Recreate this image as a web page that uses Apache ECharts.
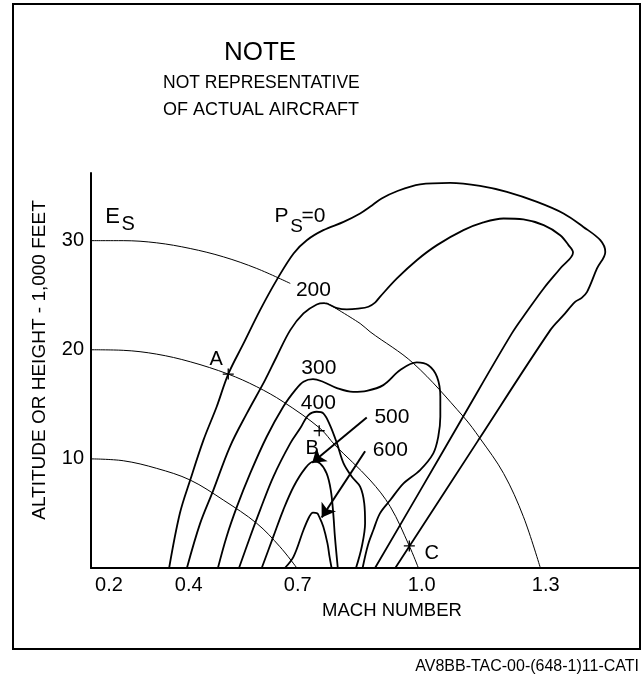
<!DOCTYPE html>
<html><head><meta charset="utf-8">
<script src="https://cdn.jsdelivr.net/npm/echarts@6/dist/echarts.min.js"></script>
<style>html,body{margin:0;padding:0;background:#fff}#c{width:641px;height:674px}</style>
</head><body><div id="c"></div>
<script>
// ---- axis ticks ----
const X_TICKS = [0.2, 0.4, 0.7, 1.0, 1.3];
const X_TICK_LABELS = ['0.2', '0.4', '0.7', '1.0', '1.3'];
const Y_TICKS = [10, 20, 30];
const Y_TICK_LABELS = ['10', '20', '30'];

// ---- specific energy curves Es (Mach, altitude 1000 ft) ----
const ES_10 = [[0.2,10.0],[0.278,9.83],[0.359,9.13],[0.440,8.06],[0.520,6.23],[0.601,4.09],[0.657,1.95],[0.698,0]];
const ES_20 = [[0.2,20.0],[0.278,19.95],[0.359,19.60],[0.440,18.90],[0.532,17.77],[0.601,16.61],[0.665,15.23],[0.754,12.80],[0.790,11.27],[0.875,8.06],[0.924,5.62],[0.970,2.02],[0.992,0]];
const ES_30_A = [[0.2,30.0],[0.278,30.0],[0.359,29.80],[0.440,29.28],[0.520,28.52],[0.601,27.45],[0.682,26.08]];
const ES_30_B = [[0.770,24.30],[0.851,22.41],[0.875,21.65],[0.980,18.75],[1.101,13.86],[1.141,11.88],[1.198,8.67],[1.246,4.70],[1.287,0]];

// ---- specific excess power contours Ps ----
const PS_0 = [[0.389,0],[0.415,5.01],[0.440,8.06],[0.472,11.72],[0.504,14.78],[0.532,17.77],[0.569,20.58],[0.609,23.63],[0.649,26.38],[0.690,28.83],[0.722,30.04],[0.762,30.96],[0.811,31.72],[0.851,32.49],[0.875,33.10],[0.903,33.86],[0.940,34.53],[0.996,35.15],[1.069,35.29],[1.141,35.02],[1.206,34.47],[1.279,33.55],[1.343,32.49],[1.391,31.26],[1.432,30.04],[1.444,28.97],[1.424,27.45],[1.400,25.31],[1.387,24.76],[1.371,24.39],[1.343,23.17],[1.311,21.80],[1.137,11.72],[0.936,0]];
const PS_200 = [[0.432,0],[0.464,4.09],[0.496,7.14],[0.536,11.11],[0.577,14.17],[0.621,17.22],[0.649,19.36],[0.682,21.80],[0.714,23.33],[0.746,24.15],[0.764,24.27],[0.795,23.82],[0.819,23.70],[0.846,23.77],[0.871,23.94],[0.887,24.32],[0.899,24.85],[0.940,26.54],[0.988,28.21],[1.037,29.59],[1.101,30.96],[1.149,31.67],[1.198,32.03],[1.246,31.94],[1.295,31.42],[1.335,30.50],[1.355,29.59],[1.366,28.92],[1.335,27.45],[1.295,25.62],[1.254,23.48],[1.218,21.50],[1.100,13.86],[0.997,7.14],[0.887,0]];
const PS_300 = [[0.507,0],[0.528,2.87],[0.553,5.62],[0.585,8.67],[0.625,12.03],[0.665,14.78],[0.694,16.30],[0.714,17.07],[0.737,17.31],[0.761,17.07],[0.795,16.49],[0.834,16.15],[0.867,16.24],[0.907,16.76],[0.948,18.14],[0.988,18.84],[1.016,18.59],[1.037,17.52],[1.045,15.69],[1.045,13.86],[1.040,12.03],[1.028,10.51],[0.996,8.98],[0.956,7.76],[0.924,6.23],[0.899,5.01],[0.883,3.48],[0.870,2.11],[0.857,0]];
const PS_400 = [[0.558,0],[0.585,2.87],[0.609,5.31],[0.641,8.36],[0.682,11.42],[0.706,12.80],[0.726,14.01],[0.746,14.32],[0.762,14.17],[0.778,13.10],[0.795,11.42],[0.811,9.59],[0.831,8.36],[0.851,7.45],[0.861,5.93],[0.863,4.09],[0.855,1.95],[0.841,0]];
const PS_500 = [[0.613,0],[0.641,2.87],[0.665,5.31],[0.690,7.45],[0.718,9.13],[0.738,9.74],[0.754,9.59],[0.770,8.67],[0.780,7.14],[0.786,5.01],[0.790,2.87],[0.797,0]];
const PS_600 = [[0.669,0],[0.690,1.04],[0.714,3.48],[0.728,4.70],[0.737,5.08],[0.747,5.01],[0.752,4.70],[0.762,3.78],[0.772,2.26],[0.777,1.04],[0.782,0]];

// ---- annotations (data coordinates) ----
const POINT_NAMES = ['A', 'B', 'C'];
const POINTS = [[0.532,17.77],[0.752,12.58],[0.970,2.02]];
const POINT_LABEL_AT = [[0.503,19.08],[0.735,10.99],[1.024,1.35]];
const CONTOUR_LABELS = ['200', '300', '400', '500', '600'];
const CONTOUR_LABEL_AT = [[0.738,25.42],[0.751,18.35],[0.750,15.14],[0.928,13.86],[0.924,10.81]];
const ARROWS = [[[0.867,13.80],[0.735,9.64]], [[0.863,10.70],[0.758,4.63]]];
const SYMBOL_TEXT = ['E', 'S', 'P', 'S', '=0'];
const SYMBOL_TEXT_AT = [[0.252,32.18],[0.290,31.49],[0.661,32.26],[0.697,31.26],[0.738,32.24]];

const NOTE_LINES = ['NOTE', 'NOT REPRESENTATIVE', 'OF ACTUAL AIRCRAFT'];
const X_NAME = 'MACH NUMBER';
const Y_NAME = 'ALTITUDE OR HEIGHT - 1,000 FEET';
const CAPTION = 'AV8BB-TAC-00-(648-1)11-CATI';

const FONT = "'Liberation Sans',Arial,sans-serif";

function near(v, arr) { return arr.findIndex(t => Math.abs(t - v) < 1e-6); }

function curve(data, w) {
  return { type: 'line', data: data, showSymbol: false, smooth: 0.35, silent: true,
    lineStyle: { color: '#000', width: w }, z: 3, animation: false };
}
function texts(names, at, size) {
  return { type: 'scatter', silent: true, symbol: 'circle', symbolSize: 0, z: 6,
    itemStyle: { color: '#000', opacity: 1 },
    data: names.map((n, i) => ({ name: n, value: at[i] })),
    label: { show: true, position: 'inside', formatter: p => p.name, color: '#000',
      opacity: 1, textBorderWidth: 0, fontSize: size, fontFamily: FONT } };
}

const chart = echarts.init(document.getElementById('c'), null, { renderer: 'canvas' });
chart.setOption({
  animation: false,
  grid: { left: 91, right: 1, top: 173, bottom: 106 },
  xAxis: {
    type: 'value', min: 0.2, max: 1.528, interval: 0.1,
    axisLine: { show: true, lineStyle: { color: '#000', width: 2 } },
    axisTick: { show: false }, splitLine: { show: false },
    axisLabel: {
      margin: 7, color: '#000', fontSize: 20, fontFamily: FONT, showMaxLabel: false,
      formatter: v => { const i = near(v, X_TICKS); if (i < 0) return '';
        if (i === 0) return '{a|' + X_TICK_LABELS[i] + '}';
        if (i === 1) return '{b|' + X_TICK_LABELS[i] + '}';
        return X_TICK_LABELS[i]; },
      rich: { a: { padding: [0, 0, 0, 36], fontSize: 20, fontFamily: FONT, color: '#000' },
              b: { padding: [0, 0, 0, 30], fontSize: 20, fontFamily: FONT, color: '#000' } }
    },
    name: X_NAME, nameLocation: 'middle', nameGap: 33,
    nameTextStyle: { color: '#000', fontSize: 18.5, fontFamily: FONT, padding: [0, 0, 0, 53] }
  },
  yAxis: {
    type: 'value', min: 0, max: 36.2, interval: 10,
    axisLine: { show: true, lineStyle: { color: '#000', width: 2 } },
    axisTick: { show: false }, splitLine: { show: false },
    axisLabel: { margin: 7, color: '#000', fontSize: 20, fontFamily: FONT,
      formatter: v => { const i = near(v, Y_TICKS); return i < 0 ? '' : Y_TICK_LABELS[i]; } },
    name: Y_NAME, nameLocation: 'middle', nameRotate: 90, nameGap: 42,
    nameTextStyle: { color: '#000', fontSize: 19, fontFamily: FONT, padding: [0, 0, 0, 21] }
  },
  graphic: [
    { type: 'rect', shape: { x: 13, y: 4, width: 627, height: 645 },
      style: { fill: 'none', stroke: '#000', lineWidth: 2 }, silent: true },
    { type: 'text', x: 260, y: 53, style: { text: NOTE_LINES[0], fill: '#000', font: "26px " + FONT, textAlign: 'center', textVerticalAlign: 'middle' } },
    { type: 'text', x: 163, y: 83, style: { text: NOTE_LINES[1], fill: '#000', font: "17.5px " + FONT, textAlign: 'left', textVerticalAlign: 'middle' } },
    { type: 'text', x: 163, y: 110, style: { text: NOTE_LINES[2], fill: '#000', font: "18px " + FONT, textAlign: 'left', textVerticalAlign: 'middle' } },
    { type: 'text', x: 639, y: 667, style: { text: CAPTION, fill: '#000', font: "16px " + FONT, textAlign: 'right', textVerticalAlign: 'middle' } }
  ],
  series: [
    curve(ES_10, 1), curve(ES_20, 1), curve(ES_30_A, 1), curve(ES_30_B, 1),
    curve(PS_0, 1.8), curve(PS_200, 1.8), curve(PS_300, 1.8), curve(PS_400, 1.8), curve(PS_500, 1.8), curve(PS_600, 1.8),
    { type: 'scatter', silent: true, z: 5, symbolSize: 11,
      symbol: 'path://M4.4,0H5.6V10H4.4ZM0,4.4H10V5.6H0Z',
      itemStyle: { color: '#000', opacity: 1 }, data: POINTS },
    { type: 'lines', coordinateSystem: 'cartesian2d', silent: true, z: 5,
      symbol: ['none', 'arrow'], symbolSize: [4, 13],
      lineStyle: { color: '#000', width: 2, opacity: 1 },
      data: ARROWS.map(c => ({ coords: c })) },
    texts(POINT_NAMES, POINT_LABEL_AT, 20),
    texts(CONTOUR_LABELS, CONTOUR_LABEL_AT, 21),
    texts(SYMBOL_TEXT.slice(0, 1), SYMBOL_TEXT_AT.slice(0, 1), 22),
    texts(SYMBOL_TEXT.slice(1, 2), SYMBOL_TEXT_AT.slice(1, 2), 20),
    texts(SYMBOL_TEXT.slice(2, 3), SYMBOL_TEXT_AT.slice(2, 3), 21),
    texts(SYMBOL_TEXT.slice(3, 4), SYMBOL_TEXT_AT.slice(3, 4), 19),
    texts(SYMBOL_TEXT.slice(4, 5), SYMBOL_TEXT_AT.slice(4, 5), 21)
  ]
});
</script></body></html>
